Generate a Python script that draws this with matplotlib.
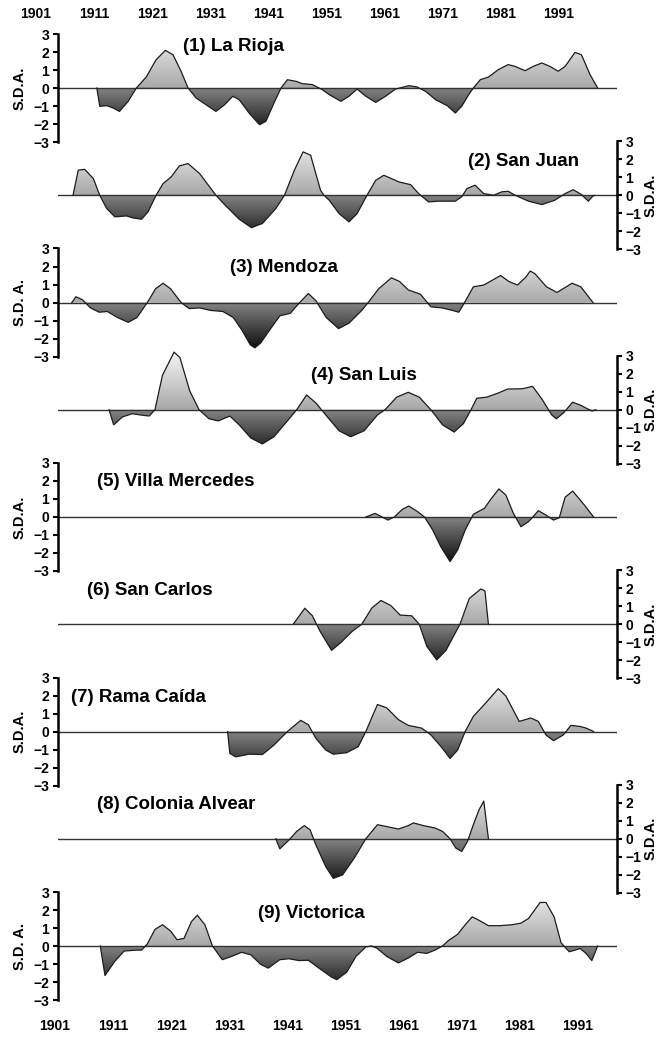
import numpy as np
import matplotlib
matplotlib.use("Agg")
import matplotlib.pyplot as plt
from matplotlib.path import Path
from matplotlib.transforms import blended_transform_factory

plt.rcParams['font.family'] = ['Liberation Sans', 'DejaVu Sans']
plt.rcParams['font.weight'] = 'bold'

# ---------------- data: (year, standardized departure) ----------------
la_rioja = [(1908.2, 0), (1908.7, -1.02), (1909.9, -0.98), (1911.0, -1.11), (1912.1, -1.3), (1913.6, -0.74),
            (1915.0, 0), (1916.7, 0.61), (1918.4, 1.57), (1920.0, 2.09), (1921.3, 1.85), (1922.7, 0.93),
            (1923.9, 0), (1925.3, -0.56), (1927.0, -0.93), (1928.7, -1.3), (1930.2, -0.93), (1931.6, -0.46),
            (1932.7, -0.65), (1934.4, -1.39), (1936.2, -2.04), (1937.3, -1.85), (1938.7, -0.83), (1939.9, 0),
            (1941.0, 0.46), (1942.5, 0.37), (1943.6, 0.24), (1945.3, 0.19), (1947.0, -0.09), (1948.2, -0.37),
            (1950.2, -0.74), (1951.6, -0.46), (1953.0, -0.06), (1954.5, -0.46), (1956.2, -0.8), (1957.9, -0.46),
            (1959.6, -0.06), (1961.9, 0.13), (1963.3, 0.06), (1964.8, -0.19), (1966.5, -0.65), (1968.5, -0.98),
            (1969.9, -1.39), (1971.0, -1.02), (1972.2, -0.37), (1973.0, 0), (1974.2, 0.46), (1975.6, 0.61),
            (1977.3, 1.02), (1979.0, 1.3), (1980.2, 1.2), (1981.9, 0.96), (1983.3, 1.2), (1984.8, 1.39),
            (1986.2, 1.2), (1987.6, 0.93), (1988.8, 1.2), (1990.5, 1.98), (1991.6, 1.85), (1993.1, 0.74),
            (1994.4, 0)]

san_juan = [(1904.1, 0), (1905.0, 1.39), (1906.1, 1.44), (1907.6, 0.93), (1908.7, 0), (1909.9, -0.74),
            (1911.3, -1.2), (1913.3, -1.15), (1914.4, -1.26), (1915.9, -1.33), (1917.0, -0.93), (1918.4, 0),
            (1919.6, 0.65), (1921.0, 1.02), (1922.4, 1.63), (1923.9, 1.76), (1925.9, 1.2), (1927.3, 0.6),
            (1928.7, 0), (1930.4, -0.59), (1932.7, -1.33), (1934.8, -1.8), (1936.7, -1.57), (1939.0, -0.74),
            (1940.5, 0), (1942.2, 1.39), (1943.7, 2.41), (1945.0, 2.22), (1946.7, 0.28), (1947.3, 0),
            (1948.2, -0.28), (1949.9, -1.02), (1951.6, -1.48), (1953.0, -1.02), (1954.7, 0), (1956.2, 0.83),
            (1957.6, 1.11), (1960.2, 0.74), (1962.2, 0.59), (1963.6, 0.09), (1965.3, -0.37), (1967.0, -0.33),
            (1969.9, -0.33), (1971.0, -0.09), (1971.9, 0.37), (1973.3, 0.56), (1974.8, 0.09), (1976.5, 0),
            (1977.9, 0.19), (1979.0, 0.22), (1980.2, 0), (1982.5, -0.33), (1984.8, -0.52), (1987.0, -0.28),
            (1988.8, 0.09), (1990.2, 0.31), (1991.6, 0.04), (1992.8, -0.33), (1993.6, -0.04), (1993.9, 0)]

mendoza = [(1903.9, 0), (1904.6, 0.32), (1905.7, 0.16), (1907.1, -0.3), (1908.6, -0.54), (1910.0, -0.5),
           (1911.8, -0.84), (1913.6, -1.1), (1915.1, -0.84), (1916.9, 0), (1918.3, 0.76), (1919.6, 1.07),
           (1920.9, 0.76), (1922.7, 0), (1924.1, -0.34), (1925.9, -0.3), (1927.8, -0.44), (1929.9, -0.5),
           (1931.7, -0.84), (1933.2, -1.55), (1934.6, -2.35), (1935.4, -2.52), (1936.4, -2.25), (1937.9, -1.55),
           (1939.7, -0.74), (1941.5, -0.6), (1943.0, -0.04), (1944.6, 0.5), (1945.9, 0.1), (1947.7, -0.84),
           (1949.8, -1.45), (1951.6, -1.15), (1953.8, -0.44), (1954.9, 0), (1956.7, 0.76), (1958.9, 1.37),
           (1960.3, 1.17), (1961.8, 0.7), (1963.9, 0.46), (1965.7, -0.24), (1967.6, -0.3), (1969.4, -0.44),
           (1970.5, -0.54), (1971.5, 0), (1973.0, 0.87), (1974.8, 0.97), (1975.9, 1.17), (1977.7, 1.5),
           (1979.1, 1.17), (1980.6, 0.97), (1982.0, 1.4), (1982.8, 1.75), (1983.6, 1.6), (1985.6, 0.87),
           (1987.4, 0.56), (1990.0, 1.07), (1991.5, 0.87), (1993.6, 0)]

san_luis = [(1910.3, 0), (1911.1, -0.84), (1912.6, -0.4), (1914.3, -0.22), (1915.7, -0.29), (1917.2, -0.35),
            (1918.2, 0), (1919.5, 1.92), (1921.5, 3.2), (1922.5, 2.9), (1924.2, 1.04), (1925.8, 0),
            (1927.5, -0.5), (1929.1, -0.62), (1931.1, -0.35), (1932.7, -0.84), (1934.7, -1.57), (1936.7, -1.9),
            (1938.7, -1.5), (1940.6, -0.77), (1942.6, 0), (1944.3, 0.82), (1945.9, 0.38), (1947.6, -0.29),
            (1949.9, -1.17), (1951.9, -1.5), (1954.2, -1.17), (1956.5, -0.29), (1957.8, 0), (1959.8, 0.7),
            (1961.8, 0.97), (1963.7, 0.7), (1965.7, 0), (1967.7, -0.84), (1969.7, -1.24), (1971.3, -0.77),
            (1972.6, 0), (1973.6, 0.64), (1975.3, 0.7), (1977.3, 0.93), (1978.9, 1.15), (1981.5, 1.17),
            (1983.2, 1.3), (1984.8, 0.6), (1986.5, -0.29), (1987.3, -0.5), (1988.5, -0.18), (1990.1, 0.42),
            (1991.4, 0.26), (1993.4, -0.07), (1994.1, 0)]

villa_mercedes = [(1954.5, 0), (1956.1, 0.2), (1957.3, 0), (1958.3, -0.17), (1959.4, 0), (1960.8, 0.43),
                  (1961.9, 0.61), (1963.4, 0.3), (1964.6, 0), (1966.0, -0.72), (1967.4, -1.65), (1969.0, -2.48),
                  (1970.3, -1.83), (1971.6, -0.72), (1973.0, 0.15), (1974.9, 0.48), (1975.9, 0.94),
                  (1977.4, 1.56), (1978.6, 1.22), (1979.9, 0.2), (1981.2, -0.54), (1982.5, -0.26),
                  (1984.2, 0.35), (1985.5, 0.11), (1986.8, -0.17), (1987.8, -0.04), (1988.8, 1.1),
                  (1990.1, 1.44), (1992.1, 0.67), (1993.7, 0)]

san_carlos = [(1942.0, 0), (1944.0, 0.89), (1945.3, 0.47), (1946.6, -0.38), (1948.6, -1.45), (1950.2, -1.02),
              (1952.2, -0.38), (1953.8, 0), (1955.5, 0.89), (1957.1, 1.32), (1958.8, 1.04), (1960.4, 0.51),
              (1962.4, 0.47), (1963.7, 0), (1965.0, -1.23), (1966.7, -1.98), (1968.3, -1.45), (1970.7, 0),
              (1972.3, 1.43), (1974.3, 1.96), (1975.0, 1.85), (1975.6, 0)]

rama_caida = [(1930.7, 0), (1931.1, -1.22), (1932.1, -1.41), (1934.4, -1.26), (1936.7, -1.28), (1938.7, -0.75),
              (1941.0, 0), (1943.3, 0.62), (1944.6, 0.38), (1945.9, -0.38), (1947.6, -1.03), (1948.9, -1.26),
              (1951.2, -1.18), (1953.2, -0.84), (1954.5, 0), (1956.5, 1.5), (1958.1, 1.31), (1960.1, 0.66),
              (1961.8, 0.34), (1964.1, 0.19), (1965.7, -0.19), (1967.7, -0.94), (1969.0, -1.5), (1970.3, -1.03),
              (1971.6, 0), (1973.0, 0.84), (1974.9, 1.5), (1977.3, 2.38), (1978.6, 1.97), (1980.9, 0.56),
              (1982.9, 0.75), (1984.2, 0.56), (1985.5, -0.19), (1986.8, -0.51), (1988.5, -0.19), (1989.8, 0.34),
              (1991.4, 0.28), (1992.4, 0.19), (1993.7, 0)]

colonia_alvear = [(1939.0, 0), (1939.7, -0.56), (1941.3, -0.06), (1942.6, 0.41), (1943.9, 0.73), (1944.9, 0.5),
                  (1945.9, -0.34), (1947.6, -1.55), (1948.9, -2.2), (1950.5, -2.01), (1952.5, -1.08),
                  (1954.5, 0), (1956.5, 0.78), (1958.5, 0.65), (1960.1, 0.54), (1961.8, 0.73), (1962.7, 0.88),
                  (1964.4, 0.73), (1966.4, 0.6), (1967.7, 0.41), (1969.0, 0), (1970.0, -0.52), (1971.0, -0.71),
                  (1972.0, -0.15), (1973.0, 0.78), (1974.0, 1.62), (1974.8, 2.09), (1975.6, 0)]

victorica = [(1908.8, 0), (1909.6, -1.64), (1911.3, -0.85), (1912.9, -0.28), (1914.9, -0.23), (1915.9, -0.23),
             (1916.9, 0.12), (1918.2, 0.92), (1919.5, 1.18), (1920.9, 0.83), (1922.0, 0.35), (1923.2, 0.42),
             (1924.5, 1.36), (1925.5, 1.71), (1926.8, 1.18), (1928.1, 0), (1929.8, -0.76), (1931.4, -0.58),
             (1933.1, -0.35), (1934.7, -0.49), (1936.4, -1.02), (1937.7, -1.23), (1939.7, -0.76), (1941.3, -0.71),
             (1943.0, -0.81), (1944.6, -0.79), (1946.3, -1.2), (1948.6, -1.73), (1949.5, -1.87), (1951.2, -1.46),
             (1952.8, -0.58), (1954.5, -0.05), (1955.5, 0), (1956.5, -0.14), (1958.1, -0.58), (1960.1, -0.94),
             (1961.8, -0.67), (1963.4, -0.35), (1965.0, -0.41), (1966.4, -0.23), (1967.7, 0), (1968.7, 0.3),
             (1970.3, 0.65), (1971.6, 1.18), (1972.8, 1.62), (1973.9, 1.44), (1975.6, 1.13), (1977.6, 1.13),
             (1979.6, 1.18), (1981.2, 1.27), (1982.5, 1.53), (1984.5, 2.42), (1985.5, 2.42), (1986.9, 1.62),
             (1988.1, 0.18), (1989.5, -0.32), (1990.5, -0.23), (1991.4, -0.14), (1992.4, -0.41), (1993.4, -0.81),
             (1994.4, 0)]

station_titles = ["(1) La Rioja", "(2) San Juan", "(3) Mendoza", "(4) San Luis", "(5) Villa Mercedes",
                  "(6) San Carlos", "(7) Rama Caída", "(8) Colonia Alvear", "(9) Victorica"]
station_series = [la_rioja, san_juan, mendoza, san_luis, villa_mercedes, san_carlos, rama_caida,
                  colonia_alvear, victorica]
axis_labels = ["S.D.A.", "S.D.A.", "S.D. A.", "S.D.A.", "S.D.A.", "S.D.A.", "S.D.A.", "S.D.A.", "S.D. A."]
decade_labels = [1901, 1911, 1921, 1931, 1941, 1951, 1961, 1971, 1981, 1991]
y_ticks = [-3, -2, -1, 0, 1, 2, 3]

# ---------------- layout (pixels) ----------------
W, H = 657, 1040
px_per_year = 5.81
x_1901 = 55.0
ax_left_px, ax_right_px = 57.5, 617.0
first_zero_px = 88.0
panel_step_px = 107.25
unit_px = 18.0
ylim_pad = 3.45
title_left_px = [183, 468, 230, 311, 97, 87, 71, 97, 258]
title_up_units = [2.3, 1.9, 1.95, 1.9, 2.0, 1.9, 1.9, 1.9, 1.8]
top_label_shift_years = -19.0 / px_per_year


def px2yr(px):
    return 1901 + (px - x_1901) / px_per_year


xlim = (px2yr(ax_left_px), px2yr(ax_right_px))

grad_y = np.linspace(-ylim_pad, ylim_pad, 500)
grad_v = np.where(grad_y >= 0, 0.66 + 0.095 * grad_y, 0.52 + 0.185 * grad_y).clip(0.06, 0.96)

fig = plt.figure(figsize=(W / 100, H / 100), dpi=100)
axes = []
for i, (title, series, lab) in enumerate(zip(station_titles, station_series, axis_labels)):
    zero_px = first_zero_px + i * panel_step_px
    h_px = 2 * ylim_pad * unit_px
    bottom = 1 - (zero_px + ylim_pad * unit_px) / H
    ax = fig.add_axes([ax_left_px / W, bottom, (ax_right_px - ax_left_px) / W, h_px / H])
    ax.patch.set_alpha(0)
    axes.append(ax)
    x, y = np.array(series, dtype=float).T

    verts = np.concatenate([np.column_stack([x, y]), np.column_stack([x[::-1], np.zeros_like(x)])])
    clip = Path(verts, closed=False)
    im = ax.imshow(grad_v[:, None], extent=[x.min(), x.max(), -ylim_pad, ylim_pad], origin='lower',
                   aspect='auto', cmap='gray', vmin=0, vmax=1, interpolation='bilinear', zorder=1)
    im.set_clip_path(clip, transform=ax.transData)
    ax.plot(x, y, color='#1c1c1c', lw=0.9, zorder=3, solid_joinstyle='round')
    ax.axhline(0, color='#333333', lw=1.0, zorder=2)

    ax.set_xlim(*xlim)
    ax.set_ylim(-ylim_pad, ylim_pad)
    right = (i % 2 == 1)
    for s in ['top', 'bottom', 'left', 'right']:
        ax.spines[s].set_visible(False)
    side = 'right' if right else 'left'
    ax.spines[side].set_visible(True)
    ax.spines[side].set_linewidth(1.8)
    ax.spines[side].set_bounds(-3, 3)
    ax.set_xticks([])
    ax.set_yticks(y_ticks)
    if right:
        ax.yaxis.tick_right()
    ax.tick_params(axis='y', direction='out', length=3.5, width=1.5, labelsize=10, pad=2.5)
    for t in ax.get_yticklabels():
        t.set_fontweight('bold')

    fig.text(title_left_px[i] / W, 1 - (zero_px - title_up_units[i] * unit_px) / H, title,
             fontsize=13.5, fontweight='bold', ha='left', va='center')
    lx = 651 if right else 20
    fig.text(lx / W, 1 - zero_px / H, lab, rotation=90, fontsize=10.5, fontweight='bold',
             ha='center', va='center')

top_tr = blended_transform_factory(axes[0].transData, fig.transFigure)
bot_tr = blended_transform_factory(axes[-1].transData, fig.transFigure)
for yr in decade_labels:
    fig.text(yr + top_label_shift_years, 1 - 14 / H, str(yr), transform=top_tr,
             ha='center', va='center', fontsize=10, fontweight='bold')
    fig.text(yr, 1 - 1026 / H, str(yr), transform=bot_tr,
             ha='center', va='center', fontsize=10, fontweight='bold')

fig.savefig('out.png', dpi=100)
